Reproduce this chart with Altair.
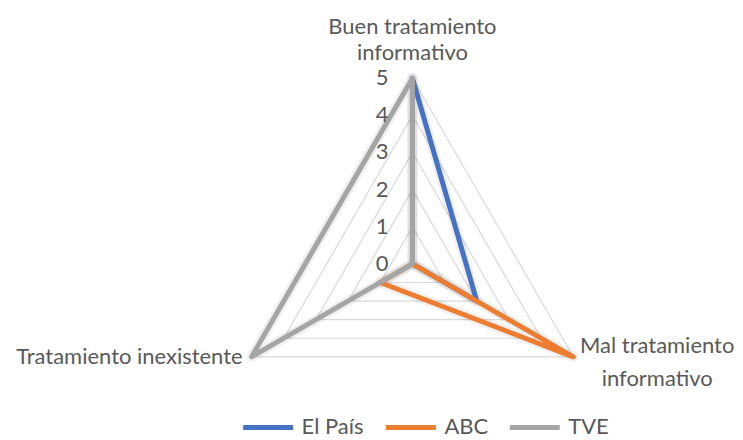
import altair as alt
import pandas as pd

categories = ["Buen tratamiento informativo", "Mal tratamiento informativo", "Tratamiento inexistente"]
cat_lines = [["Buen tratamiento", "informativo"], ["Mal tratamiento", "informativo"], ["Tratamiento inexistente"]]
series = ["El País", "ABC", "TVE"]
el_pais = [5, 2, 0]
abc = [0, 5, 1]
tve = [5, 0, 5]
tick_values = [0, 1, 2, 3, 4, 5]
colors = ["#4472C4", "#ED7D31", "#A5A5A5"]

FONT = "Lato"
FS = 22
TXT = "#595959"
GRID = "#D9D9D9"

# long table: each polygon closed by repeating the first category
rows = []
for s, vals in zip(series, [el_pais, abc, tve]):
    for i in range(len(categories) + 1):
        k = i % len(categories)
        rows.append({"series": s, "idx": i, "cat": k, "value": vals[k]})
df = pd.DataFrame(rows)

grid_rows = []
for lvl in tick_values[1:]:
    for i in range(len(categories) + 1):
        grid_rows.append({"level": lvl, "idx": i, "cat": i % len(categories), "value": lvl})
grid_df = pd.DataFrame(grid_rows)

spoke_df = pd.DataFrame({"cat": list(range(len(categories))), "value": [max(tick_values)] * len(categories)})
tick_df = pd.DataFrame({"value": tick_values, "label": [str(t) for t in tick_values], "cat": [0] * len(tick_values)})
lab_df = pd.DataFrame({"cat": list(range(len(categories))), "text": cat_lines, "value": [max(tick_values)] * 3})

N = len(categories)
ang = f"datum.cat * 2 * PI / {N}"

xs = alt.Scale(domain=[-10.887, 8.602], nice=False, zero=False)
ys = alt.Scale(domain=[-4.409, 6.882], nice=False, zero=False)


def polar(ch):
    return ch.transform_calculate(
        px=f"datum.value * sin({ang})",
        py=f"datum.value * cos({ang})",
    )


X = alt.X("px:Q", scale=xs, axis=None)
Y = alt.Y("py:Q", scale=ys, axis=None)

grid = polar(alt.Chart(grid_df)).mark_line(color=GRID, strokeWidth=1.2).encode(
    x=X, y=Y, detail="level:N", order="idx:Q",
)

spokes = polar(alt.Chart(spoke_df)).transform_calculate(zero="0").mark_rule(color=GRID, strokeWidth=1.2).encode(
    x=alt.X("zero:Q", scale=xs, axis=None),
    y=alt.Y("zero:Q", scale=ys, axis=None),
    x2="px:Q",
    y2="py:Q",
)

shadow = polar(alt.Chart(df)).mark_line(
    strokeWidth=10, strokeJoin="round", strokeCap="round", color="#000000", opacity=0.06
).encode(x=X, y=Y, detail="series:N", order="idx:Q")

lines = polar(alt.Chart(df)).mark_line(strokeWidth=5, strokeJoin="round", strokeCap="round").encode(
    x=X,
    y=Y,
    color=alt.Color(
        "series:N",
        scale=alt.Scale(domain=series, range=colors),
        sort=series,
        legend=alt.Legend(
            title=None,
            orient="none",
            direction="horizontal",
            legendX=233,
            legendY=392,
            symbolType="stroke",
            symbolStrokeWidth=5,
            symbolSize=2500,
            labelFont=FONT,
            labelFontSize=FS,
            labelColor=TXT,
            labelOffset=6,
            columnPadding=11,
            padding=0,
        ),
    ),
    order="idx:Q",
)

ticks = polar(alt.Chart(tick_df)).mark_text(
    align="right", baseline="middle", dx=-24, font=FONT, fontSize=FS, color=TXT
).encode(x=X, y=Y, text="label:N")


def cat_label(k, **kw):
    return polar(alt.Chart(lab_df)).transform_filter(f"datum.cat == {k}").mark_text(
        font=FONT, fontSize=FS, color=TXT, **kw
    ).encode(x=X, y=Y, text="text")


lab0 = cat_label(0, align="center", baseline="middle", dy=-51, lineHeight=26)
lab1 = cat_label(1, align="center", baseline="middle", dx=84, dy=-11, lineHeight=33)
lab2 = cat_label(2, align="right", baseline="middle", dx=-9, dy=0)

chart = alt.layer(grid, spokes, shadow, lines, ticks, lab0, lab1, lab2).properties(
    width=725, height=420, padding=0
).configure_view(stroke=None)

chart.save("out.html", embed_options={"renderer": "svg", "actions": False})
